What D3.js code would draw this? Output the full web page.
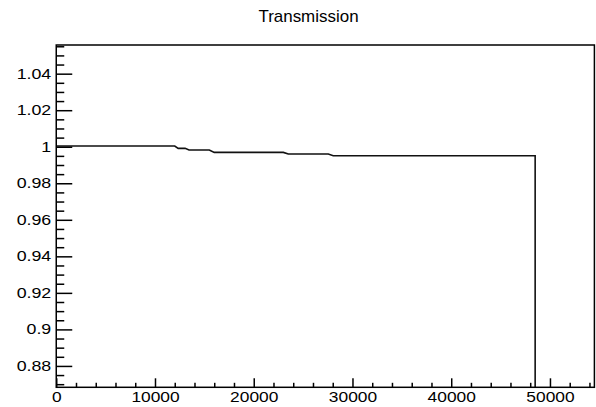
<!DOCTYPE html>
<html>
<head>
<meta charset="utf-8">
<script src="https://cdn.jsdelivr.net/npm/d3@7"></script>
<style>
  html, body { margin: 0; padding: 0; background: #fff; }
  svg { display: block; }
  text { font-family: "Liberation Sans", Arial, Helvetica, sans-serif; fill: #000; }
</style>
</head>
<body>
<svg id="chart" width="596" height="407"></svg>
<script>
// Data (TGraph "Transmission")
const xValues = [0, 12000, 12350, 13050, 13450, 15500, 16000, 23000, 23500, 27550, 28050, 48500, 48500];
const yValues = [1.0004, 1.0004, 0.9991, 0.9991, 0.9982, 0.9982, 0.9969, 0.9969, 0.9960, 0.9960, 0.9951, 0.9951, 0];
const xMajorTicks = [0, 10000, 20000, 30000, 40000, 50000];
const yMajorTicks = [0.88, 0.90, 0.92, 0.94, 0.96, 0.98, 1.00, 1.02, 1.04];
const yTickLabels = ["0.88", "0.9", "0.92", "0.94", "0.96", "0.98", "1", "1.02", "1.04"];
const titleText = "Transmission";

const xDomain = [0, 54500];
const yDomain = [0.8683, 1.0557];

const mLeft = 56.25, mRight = 594.4, mTop = 45, mBottom = 387.3;

const svg = d3.select("#chart");
const x = d3.scaleLinear().domain(xDomain).range([mLeft, mRight]);
const y = d3.scaleLinear().domain(yDomain).range([mBottom, mTop]);

const xMinor = d3.range(0, xDomain[1], 2000).filter(v => !xMajorTicks.includes(v));
const yMinor = d3.range(870, 1056, 5).map(v => v / 1000).filter(v => !yMajorTicks.some(m => Math.abs(m - v) < 1e-9));

// clip
svg.append("clipPath").attr("id", "clip").append("rect")
  .attr("x", mLeft).attr("y", mTop).attr("width", mRight - mLeft).attr("height", mBottom - mTop);

// data line
const line = d3.line().x((d, i) => x(xValues[i])).y((d, i) => y(yValues[i]));
svg.append("path")
  .datum(xValues)
  .attr("clip-path", "url(#clip)")
  .attr("d", line)
  .attr("fill", "none")
  .attr("stroke", "#111")
  .attr("stroke-width", 1.6);

// Y axis major
const gy = svg.append("g").attr("transform", `translate(${mLeft},0)`)
  .call(d3.axisLeft(y).tickValues(yMajorTicks).tickSizeInner(-16).tickSizeOuter(0).tickPadding(5)
    .tickFormat((d, i) => yTickLabels[i]));
gy.select(".domain").remove();
gy.selectAll(".tick line").attr("stroke", "#000").attr("stroke-width", 1.5);
gy.selectAll(".tick text")
  .attr("x", 0)
  .attr("transform", "translate(-5,0) scale(1.27,1)")
  .style("font-size", "14px");

// Y axis minor
const gym = svg.append("g").attr("transform", `translate(${mLeft},0)`)
  .call(d3.axisLeft(y).tickValues(yMinor).tickSizeInner(-8).tickSizeOuter(0).tickFormat(""));
gym.select(".domain").remove();
gym.selectAll(".tick line").attr("stroke", "#000").attr("stroke-width", 1.5);

// X axis major
const gx = svg.append("g").attr("transform", `translate(0,${mBottom})`)
  .call(d3.axisBottom(x).tickValues(xMajorTicks).tickSizeInner(-9).tickSizeOuter(0).tickPadding(5)
    .tickFormat(d3.format("d")));
gx.select(".domain").remove();
gx.selectAll(".tick line").attr("stroke", "#000").attr("stroke-width", 1.5);
gx.selectAll(".tick text")
  .attr("transform", "scale(1.24,1)")
  .style("font-size", "14px");

// X axis minor
const gxm = svg.append("g").attr("transform", `translate(0,${mBottom})`)
  .call(d3.axisBottom(x).tickValues(xMinor).tickSizeInner(-4.5).tickSizeOuter(0).tickFormat(""));
gxm.select(".domain").remove();
gxm.selectAll(".tick line").attr("stroke", "#000").attr("stroke-width", 1.5);

// Frame
svg.append("rect")
  .attr("x", mLeft).attr("y", mTop).attr("width", mRight - mLeft).attr("height", mBottom - mTop)
  .attr("fill", "none").attr("stroke", "#000").attr("stroke-width", 1.5);

// Title
svg.append("text")
  .attr("transform", "translate(308.5,22) scale(1.06,1)")
  .attr("text-anchor", "middle")
  .style("font-size", "16px")
  .text(titleText);
</script>
</body>
</html>
